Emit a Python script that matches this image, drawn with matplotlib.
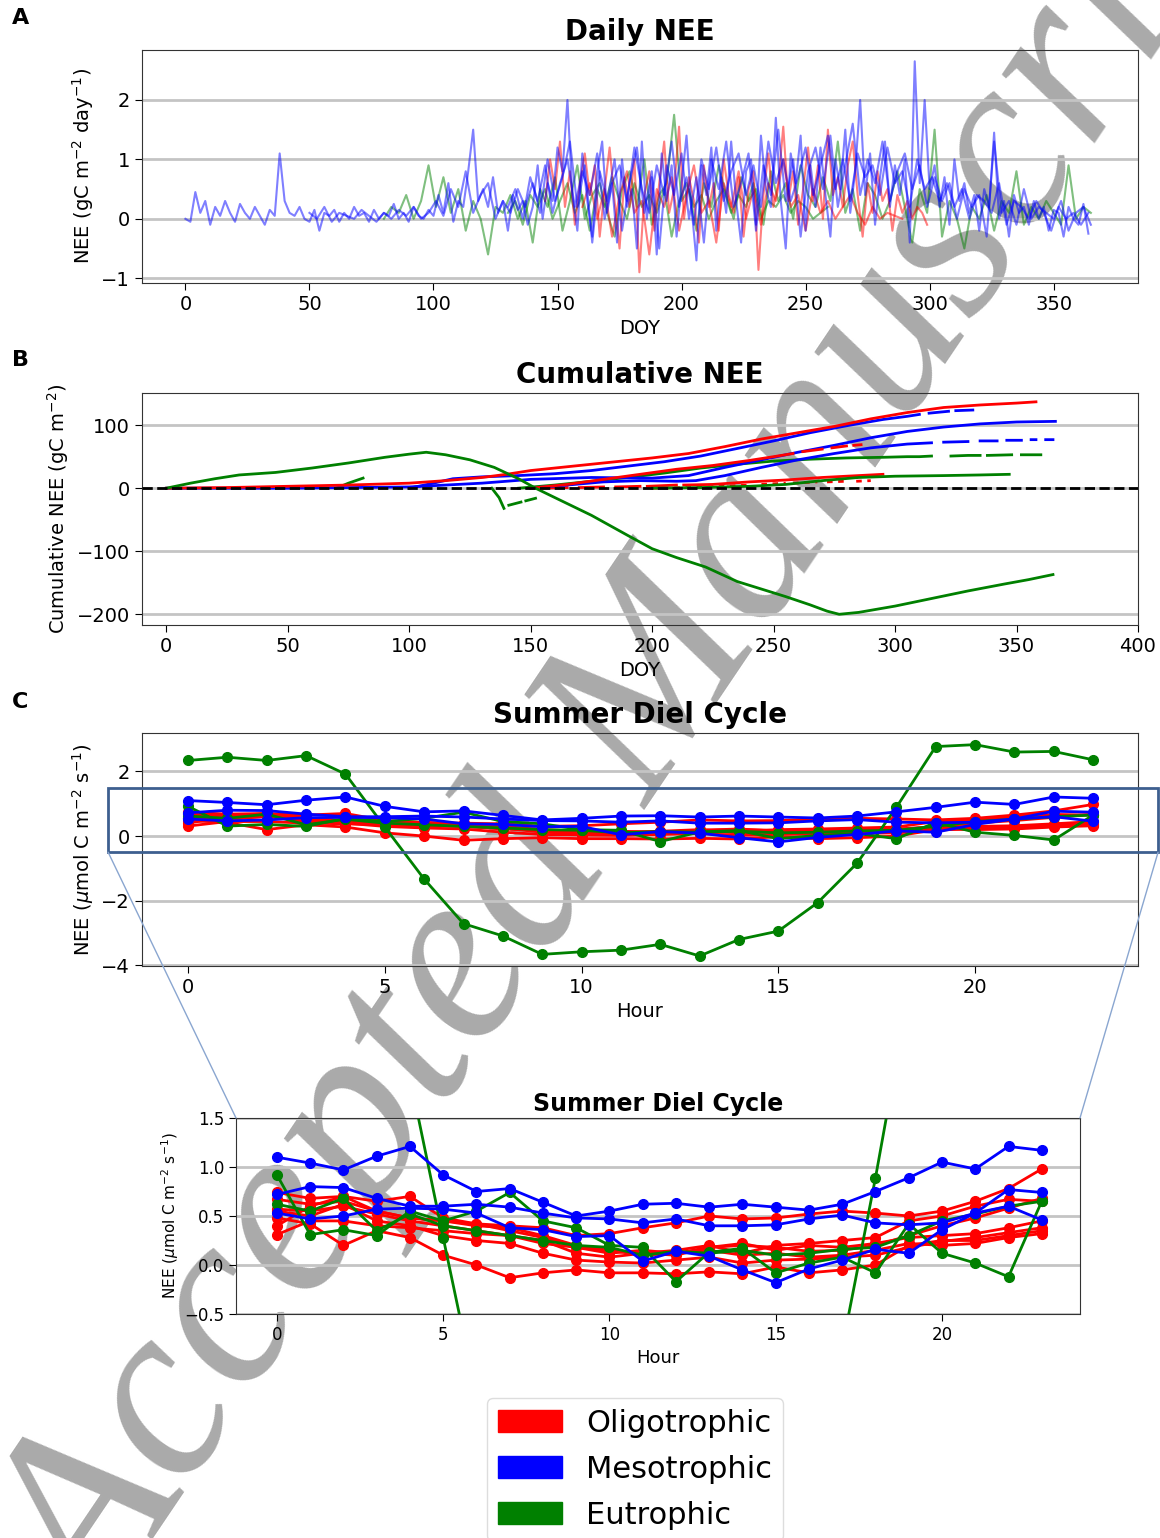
import numpy as np
import matplotlib
matplotlib.use('Agg')
import matplotlib.pyplot as plt
from matplotlib.patches import Patch, Rectangle, ConnectionPatch

plt.rcParams['font.family'] = ['DejaVu Sans']
nan = np.nan

# ---------------- Panel A: daily NEE (gC m-2 day-1) ----------------
blue1_start, blue1_step = 0, 2
blue1 = [0.0, -0.05, 0.45, 0.1, 0.3, -0.1, 0.2, 0.05, 0.3, 0.1,
         -0.05, 0.25, 0.1, 0.0, 0.2, 0.05, -0.1, 0.15, 0.05, 1.1,
         0.3, 0.1, 0.05, 0.2, 0.0, -0.05, 0.15, -0.2, 0.1, 0.05,
         0.15, -0.05, 0.1, 0.0, 0.2, 0.05, 0.1, -0.05, 0.15, 0.0,
         0.1, 0.05, 0.25, 0.0, 0.1, -0.05, 0.2, 0.05, 0.0, 0.15,
         0.05, 0.4, 0.1, 0.6, -0.05, 0.3, 0.2, 0.8, 1.5, 0.3,
         0.5, 0.2, 0.7, 0.1, 0.3, -0.2, 0.4, 0.15, 0.3, -0.1,
         0.2, 0.9, 0.0, 0.6, 0.3, 1.2, 0.8, 2.0, 0.4, -0.2,
         1.1, 0.3, -0.3, 0.8, 1.3, 0.1, 0.6, -0.4, 1.0, 0.2,
         0.5, -0.5, 1.3, 0.0, 0.7, -0.6, 1.1, 0.3, 0.9, -0.3,
         0.6, 1.4, 0.2, -0.7, 0.9, 0.4, 1.2, -0.2, 0.7, 0.1,
         1.3, 0.3, -0.4, 0.8, 1.0, -0.1, 1.4, 0.5, 0.2, 1.7,
         0.3, -0.5, 1.1, 0.6, 1.4, -0.2, 0.9, 0.2, 1.2, 0.4,
         -0.3, 1.0, 0.5, 1.5, 0.1, 0.8, 2.0, 0.4, 1.1, -0.1,
         0.7, 1.3, 0.2, 0.9, 0.4, 1.0, -0.4, 2.65, 0.6, 2.0,
         0.5, 0.9, 0.2, 0.7, -0.1, 1.0, 0.3, 0.6, 0.1, 0.4,
         -0.2, 0.5, 0.2, 1.45, 0.0, 0.3, -0.3, 0.4, 0.1, 0.2,
         -0.1, 0.3, 0.0, 0.2, -0.2, 0.15, 0.1, -0.3, 0.2, 0.0,
         -0.1, 0.25, -0.25]

blue2_start, blue2_step = 50, 3
blue2 = [0.1, 0.0, 0.2, -0.05, 0.1, 0.05, 0.0, 0.15, 0.05, -0.05,
         0.1, 0.0, 0.15, 0.05, 0.2, 0.0, 0.1, 0.3, 0.05, 0.5,
         0.2, 0.8, 0.1, 0.4, 0.6, 0.0, 0.3, 0.1, 0.5, 0.2,
         0.6, 0.1, 1.0, 0.3, 0.7, 1.3, 0.2, 0.9, -0.4, 0.8,
         0.3, 1.0, -0.2, 0.6, 1.2, 0.1, 0.8, -0.5, 0.9, 0.4,
         1.1, 0.0, 0.7, -0.4, 1.0, 0.5, 1.3, 0.2, 0.6, 1.1,
         -0.2, 0.9, 0.4, 1.5, 0.3, 1.0, -0.3, 0.8, 1.2, 0.5,
         1.4, 0.2, 0.9, 1.6, 0.4, 1.0, 0.6, 1.3, 0.3, 0.8,
         1.1, 0.5, 0.9, 0.2, 0.7, 0.3, 0.6, 0.0, 0.5, 0.2,
         0.4, -0.3, 1.3, 0.1, 0.3, -0.1, 0.5, 0.0, 0.2, 0.1,
         0.0, 0.3, -0.2, 0.1, 0.2, -0.1]

blue3_start, blue3_step = 130, 3
blue3 = [0.2, 0.5, 0.0, 0.7, 0.3, 0.9, 0.1, 0.6, 1.0, 0.2,
         0.8, 0.4, 1.1, 0.0, 0.6, 0.9, 0.3, 1.2, 0.5, 0.1,
         0.9, 0.4, 1.3, 0.2, 0.7, -0.1, 1.0, 0.5, 1.2, 0.3,
         0.8, 1.1, 0.4, 0.9, 0.2, 1.3, 0.6, 1.0, 0.3, 0.7,
         1.2, 0.4, 0.9, 1.4, 0.5, 1.0, 0.3, 1.1, 0.7, 0.9,
         0.4, 1.2, 0.6, 0.8, 0.2, 1.0, 0.5, 0.7, 0.3, 0.6,
         0.2, 0.5, 0.0, 0.4, 0.3, 0.1, 0.6, -0.1, 0.3, 0.2,
         0.0, 0.3, 0.1, -0.2, 0.2, 0.0, 0.1, -0.1, 0.1]

red1_start, red1_step = 145, 2
red1 = [0.3, 1.0, 0.5, 1.3, 0.2, 0.8, -0.1, 0.6, 1.1, 0.4,
        0.9, -0.3, 0.5, 1.2, 0.3, -0.5, 0.7, 0.2, 1.0, -0.9,
        0.4, 0.8, -0.2, 0.6, 1.3, 0.1, 0.5, 1.55, 0.0, 0.7,
        0.3, -0.4, 0.9, 0.2, 0.6, -0.2, 1.0, 0.4, 0.1, 0.7,
        -0.3, 0.5, 0.8, -0.86, 0.4, 1.1, 0.2, 0.6, 1.55, 0.3,
        0.8, -0.1, 0.5, 1.2, 0.3, 0.9, 0.0, 1.5, 0.4, 0.7,
        0.2, 0.9, 1.3, 0.4, -0.3, 0.6, 0.1, 0.8, 0.3, 0.5,
        -0.2, 0.4, 0.1, 0.3, 0.0, 0.2, 0.1, -0.1]

red2_start, red2_step = 160, 3
red2 = [0.2, 0.6, 0.0, 0.5, -0.3, 0.4, 0.8, 0.1, 0.3, -0.6,
        0.5, 0.2, 0.7, -0.2, 0.4, 0.9, 0.1, 0.3, -0.4, 0.6,
        0.2, 0.8, 0.0, 0.5, -0.1, 0.6, 0.3, 1.0, 0.2, 0.4,
        -0.2, 0.5, 0.1, 0.3, 0.0, 0.2, 0.4, 0.1, -0.1, 0.2,
        0.0, 0.1, 0.05, 0.0]

green1_start, green1_step = 80, 3
green1 = [0.0, 0.2, 0.1, 0.4, 0.0, 0.3, 0.9, 0.2, 0.7, 0.1,
          0.5, -0.2, 0.3, 0.0, -0.6, 0.2, 0.1, 0.4, 0.0, 0.3,
          -0.4, 0.5, 0.2, 0.7, -0.2, 0.3, 0.9, 0.0, 0.4, 0.6,
          0.1, -0.3, 0.5, 0.8, 0.2, 1.0, -0.1, 0.4, 0.6, 1.75,
          0.3, 0.5, -0.2, 0.6, 0.2, 0.9, 0.4, 0.0, 0.7, 0.3,
          0.5, -0.1, 0.8, 0.3, 0.6, 0.0, 0.9, 0.4, 0.2, 0.7,
          0.3, 1.3, 0.1, 0.5, -0.2, 0.6, 0.4, 0.0, 0.3, 0.8,
          0.2, -0.4, 0.5, 0.1, 1.5, -0.3, 0.3, 0.0, -0.5, 0.2,
          0.0, 0.4, -0.2, 0.3, 0.1, 0.8, -0.1, 0.2, 0.0, 0.3,
          0.1, -0.1, 0.9, 0.0, 0.2, 0.1]

green2_start, green2_step = 130, 3
green2 = [0.1, 0.3, -0.1, 0.4, 0.2, 0.5, 0.0, 0.3, 0.6, 0.1,
          0.4, -0.2, 0.5, 0.2, 0.7, 0.3, 0.0, 0.6, 0.2, 0.4,
          0.1, 0.5, -0.3, 0.3, 0.6, 0.2, 0.4, 0.0, 0.3, 0.5,
          0.1, 0.4, 0.2, 0.6, 0.0, 0.3, 0.2, 0.4, 0.1, 0.3,
          0.2, 0.0, 0.1, 0.2]

daily_series = [
    ('green', green1_start, green1_step, green1),
    ('green', green2_start, green2_step, green2),
    ('red', red1_start, red1_step, red1),
    ('red', red2_start, red2_step, red2),
    ('blue', blue2_start, blue2_step, blue2),
    ('blue', blue3_start, blue3_step, blue3),
    ('blue', blue1_start, blue1_step, blue1),
]

# ---------------- Panel B: cumulative NEE (gC m-2) ----------------
cum_green_big_doy = [0, 10, 20, 30, 45, 60, 75, 90, 100, 107, 115, 125, 135, 145, 152, 160, 175,
                     190, 200, 210, 222, 235, 245, 255, 265, 272, 277, 285, 300, 315, 330, 345, 355, 365]
cum_green_big = [0, 8, 15, 21, 25, 32, 40, 49, 54, 57, 53, 45, 33, 15, 0, -15, -43,
                 -75, -96, -110, -125, -148, -160, -172, -185, -195, -200, -197, -187, -175, -163, -152, -145, -137]

cum_red_top_doy = [0, 25, 50, 75, 100, 115, 130, 140, 150, 160, 175, 190, 200, 215, 230, 245,
                   260, 275, 290, 305, 320, 335, 350, 358]
cum_red_top = [0, 1, 3, 5, 8, 12, 17, 22, 28, 32, 38, 44, 48, 55, 66, 78,
               88, 98, 110, 120, 128, 132, 135, 137]

cum_red2_doy = [150, 165, 180, 195, 210, 225, 240, 250, 258, nan, 262, 270, nan, 274, 280, nan, 283, 286]
cum_red2 = [0, 6, 14, 22, 30, 36, 44, 50, 55, nan, 58, 62, nan, 64, 67, nan, 68, 69]

cum_red3_doy = [155, 165, nan, 170, 180, nan, 185, 195, nan, 198, 210, nan, 213, 225, 240, 255, 270, 285, 295]
cum_red3 = [0, 1, nan, 1, 2, nan, 2, 3, nan, 3, 5, nan, 5, 6, 10, 13, 17, 20, 22]

cum_red4_doy = [200, 215, 230, 240, nan, 245, 255, nan, 258, 268, nan, 272, 280, nan, 284, 290]
cum_red4 = [0, 1, 3, 5, nan, 6, 8, nan, 8, 10, nan, 10, 11, nan, 11, 12]

cum_blue1_doy = [100, 110, 118, 130, 145, 160, 175, 190, 205, 220, 235, 250, 265, 280, 295, 305,
                 310, nan, 314, 322, nan, 325, 332]
cum_blue1 = [0, 8, 15, 18, 20, 23, 28, 35, 42, 51, 63, 75, 88, 99, 109, 114,
             117, nan, 119, 122, nan, 123, 124]

cum_blue2_doy = [0, 50, 100, 130, 150, 175, 200, 215, 230, 245, 260, 275, 290, 305, 320, 335, 350, 366]
cum_blue2 = [0, 0, 2, 8, 14, 17, 16, 20, 33, 45, 57, 68, 80, 90, 97, 102, 105, 106]

cum_blue3_doy = [150, 165, 180, 195, 210, 218, 230, 245, 260, 275, 290, 305, 315, nan, 320, 330, nan,
                 335, 342, nan, 346, 352, nan, 356, 358, nan, 362, 365]
cum_blue3 = [0, 5, 10, 12, 11, 12, 20, 33, 45, 55, 64, 70, 72, nan, 73, 74, nan,
             75, 75, nan, 76, 76, nan, 77, 77, nan, 77, 77]

cum_green_small_doy = [70, 75, 81]
cum_green_small = [0, 8, 16]

cum_green_drop_doy = [134, 137, 139, nan, 141, 146, nan, 148, 152]
cum_green_drop = [0, -15, -32, nan, -27, -22, nan, -20, -16]

cum_green_d_doy = [145, 160, 175, 190, 205, 220, 235, 250, 265, 280, 295, 305, 310, 315, nan,
                   323, 330, 335, nan, 338, 348, nan, 352, 360]
cum_green_d = [0, 5, 11, 17, 24, 32, 38, 43, 46, 48, 49, 50, 50, 51, nan,
               51, 52, 52, nan, 52, 53, nan, 53, 53]

cum_green_e_doy = [200, 220, 240, 255, 270, 285, 300, 320, 335, 347]
cum_green_e = [0, 1, 3, 6, 12, 17, 19, 20, 21, 22]

cum_series = [
    ('red', cum_red4_doy, cum_red4, (0, (2, 2))),
    ('red', cum_red3_doy, cum_red3, '-'),
    ('green', cum_green_small_doy, cum_green_small, '-'),
    ('green', cum_green_drop_doy, cum_green_drop, '-'),
    ('green', cum_green_e_doy, cum_green_e, '-'),
    ('green', cum_green_d_doy, cum_green_d, '-'),
    ('blue', cum_blue3_doy, cum_blue3, '-'),
    ('blue', cum_blue2_doy, cum_blue2, '-'),
    ('red', cum_red2_doy, cum_red2, '-'),
    ('blue', cum_blue1_doy, cum_blue1, '-'),
    ('red', cum_red_top_doy, cum_red_top, '-'),
    ('green', cum_green_big_doy, cum_green_big, '-'),
]

# ---------------- Panel C: summer diel cycle (umol C m-2 s-1) ----------------
hours = list(range(24))
diel_red = [
    [0.74, 0.68, 0.70, 0.65, 0.70, 0.48, 0.42, 0.40, 0.38, 0.30, 0.32, 0.38, 0.43, 0.50, 0.47, 0.48, 0.52, 0.55, 0.53, 0.50, 0.55, 0.65, 0.78, 0.98],
    [0.67, 0.62, 0.65, 0.55, 0.48, 0.45, 0.42, 0.35, 0.28, 0.18, 0.15, 0.12, 0.15, 0.20, 0.12, 0.20, 0.22, 0.25, 0.28, 0.45, 0.50, 0.60, 0.67, 0.65],
    [0.57, 0.55, 0.60, 0.52, 0.45, 0.40, 0.35, 0.30, 0.25, 0.12, 0.08, 0.12, 0.10, 0.18, 0.22, 0.15, 0.20, 0.18, 0.22, 0.28, 0.30, 0.32, 0.38, 0.45],
    [0.48, 0.42, 0.20, 0.35, 0.28, 0.10, 0.00, -0.13, -0.08, -0.05, -0.08, -0.08, -0.09, -0.07, -0.09, -0.02, -0.08, -0.05, 0.00, 0.20, 0.25, 0.25, 0.30, 0.35],
    [0.31, 0.45, 0.45, 0.40, 0.38, 0.35, 0.32, 0.30, 0.22, 0.18, 0.12, 0.15, 0.12, 0.15, 0.10, 0.12, 0.08, 0.10, 0.15, 0.22, 0.20, 0.22, 0.28, 0.32],
    [0.55, 0.50, 0.62, 0.45, 0.40, 0.30, 0.25, 0.22, 0.12, 0.05, 0.03, 0.02, 0.05, 0.08, 0.02, 0.05, 0.06, 0.08, 0.10, 0.18, 0.24, 0.28, 0.33, 0.38],
    [0.40, 0.60, 0.70, 0.55, 0.48, 0.45, 0.40, 0.38, 0.30, 0.20, 0.15, 0.10, 0.12, 0.18, 0.20, 0.18, 0.14, 0.15, 0.20, 0.30, 0.40, 0.48, 0.58, 0.68],
]
diel_blue = [
    [1.10, 1.04, 0.97, 1.11, 1.21, 0.92, 0.75, 0.78, 0.64, 0.50, 0.55, 0.62, 0.63, 0.59, 0.62, 0.59, 0.56, 0.62, 0.75, 0.89, 1.05, 0.98, 1.21, 1.17],
    [0.72, 0.80, 0.79, 0.68, 0.60, 0.60, 0.62, 0.59, 0.53, 0.48, 0.47, 0.43, 0.47, 0.40, 0.40, 0.41, 0.47, 0.51, 0.43, 0.41, 0.43, 0.53, 0.77, 0.74],
    [0.53, 0.47, 0.50, 0.57, 0.58, 0.57, 0.53, 0.38, 0.36, 0.29, 0.30, 0.04, 0.14, 0.09, -0.05, -0.18, -0.04, 0.05, 0.16, 0.12, 0.36, 0.53, 0.60, 0.46],
]
diel_green = [
    [2.34, 2.44, 2.34, 2.49, 1.92, 0.28, -1.33, -2.71, -3.09, -3.66, -3.58, -3.53, -3.35, -3.71, -3.20, -2.94, -2.06, -0.84, 0.89, 2.77, 2.83, 2.60, 2.62, 2.36],
    [0.92, 0.31, 0.36, 0.30, 0.55, 0.45, 0.55, 0.74, 0.45, 0.38, 0.20, 0.18, -0.17, 0.13, 0.17, -0.08, 0.02, 0.08, -0.08, 0.42, 0.12, 0.02, -0.12, 0.65],
    [0.62, 0.55, 0.68, 0.35, 0.52, 0.40, 0.35, 0.30, 0.25, 0.20, 0.18, 0.10, 0.14, 0.12, 0.15, 0.10, 0.12, 0.16, 0.18, 0.30, 0.45, 0.52, 0.60, 0.65],
]

zoom_box = (-2.03, 24.65, -0.5, 1.5)  # x0, x1, y0, y1 of the highlighted region

labels = ['Oligotrophic', 'Mesotrophic', 'Eutrophic']
colors = ['red', 'blue', 'green']

# ---------------- Figure ----------------
W, H = 1160, 1538
fig = plt.figure(figsize=(W / 100, H / 100), dpi=100)


def box(l, t, r, b):
    return [l / W, 1 - b / H, (r - l) / W, (b - t) / H]


grid_kw = dict(color='#c4c4c4', lw=2)


def style(ax, fs):
    ax.set_facecolor('none')
    ax.yaxis.grid(True, **grid_kw)
    ax.set_axisbelow(True)
    ax.tick_params(labelsize=fs, length=5)
    for s in ax.spines.values():
        s.set_color('#333333')


# Panel A
axA = fig.add_axes(box(142, 50, 1138, 283))
for c, st, step, vals in daily_series:
    x = st + step * np.arange(len(vals))
    axA.plot(x, vals, color=c, alpha=0.5, lw=1.5)
axA.set_xlim(-17.5, 384)
axA.set_ylim(-1.08, 2.84)
axA.set_xticks(range(0, 351, 50))
axA.set_yticks([-1, 0, 1, 2])
style(axA, 14)
axA.set_title('Daily NEE', fontsize=20, fontweight='bold', pad=7)
axA.set_xlabel('DOY', fontsize=14)
axA.set_ylabel('NEE (gC m$^{-2}$ day$^{-1}$)', fontsize=14)

# Panel B
axB = fig.add_axes(box(142, 393, 1138, 625))
axB.axhline(0, color='black', ls='--', lw=2, zorder=5)
for c, xd, yd, ls in cum_series:
    axB.plot(xd, yd, color=c, ls=ls, lw=2)
axB.set_xlim(-10, 400)
axB.set_ylim(-217, 151)
axB.set_xticks(range(0, 401, 50))
axB.set_yticks([-200, -100, 0, 100])
style(axB, 14)
axB.set_title('Cumulative NEE', fontsize=20, fontweight='bold', pad=7)
axB.set_xlabel('DOY', fontsize=14)
axB.set_ylabel('Cumulative NEE (gC m$^{-2}$)', fontsize=14)

# Panel C (main) and zoomed view
axC = fig.add_axes(box(142, 733, 1138, 966))
axI = fig.add_axes(box(236, 1118, 1080, 1314))
for ax in (axC, axI):
    for vals in diel_red:
        ax.plot(hours, vals, color='red', lw=2, marker='o', ms=7)
    for vals in diel_green:
        ax.plot(hours, vals, color='green', lw=2, marker='o', ms=7)
    for vals in diel_blue:
        ax.plot(hours, vals, color='blue', lw=2, marker='o', ms=7)

axC.set_xlim(-1.17, 24.14)
axC.set_ylim(-4.02, 3.19)
axC.set_xticks([0, 5, 10, 15, 20])
axC.set_yticks([-4, -2, 0, 2])
style(axC, 14)
axC.set_title('Summer Diel Cycle', fontsize=20, fontweight='bold', pad=7)
axC.set_xlabel('Hour', fontsize=14)
axC.set_ylabel('NEE ($\\mu$mol C m$^{-2}$ s$^{-1}$)', fontsize=14)

axI.set_xlim(-1.23, 24.15)
axI.set_ylim(-0.5, 1.5)
axI.set_xticks([0, 5, 10, 15, 20])
axI.set_yticks([-0.5, 0.0, 0.5, 1.0, 1.5])
style(axI, 12)
axI.set_title('Summer Diel Cycle', fontsize=17, fontweight='bold', pad=5)
axI.set_xlabel('Hour', fontsize=13)
axI.set_ylabel('NEE ($\\mu$mol C m$^{-2}$ s$^{-1}$)', fontsize=11, labelpad=2)

x0, x1, y0, y1 = zoom_box
rect = Rectangle((x0, y0), x1 - x0, y1 - y0, fill=False, ec='#3d5f8f', lw=2,
                 clip_on=False, zorder=6)
axC.add_patch(rect)
for (xa, xb) in ((x0, 0), (x1, 1)):
    con = ConnectionPatch(xyA=(xa, y0), coordsA=axC.transData,
                          xyB=(xb, 1), coordsB=axI.transAxes,
                          color='#8aa6d0', lw=1)
    fig.add_artist(con)

# panel letters
for letter, ypx in (('A', 18), ('B', 360), ('C', 702)):
    fig.text(12 / W, 1 - ypx / H, letter, fontsize=16, fontweight='bold', va='center')

# legend
handles = [Patch(facecolor=c, edgecolor=c) for c in colors]
leg = fig.legend(handles, labels, loc='upper left',
                 bbox_to_anchor=(487 / W, 1 - 1398 / H), fontsize=22,
                 handlelength=2.1, handleheight=0.75, handletextpad=0.8,
                 labelspacing=0.56, borderpad=0.35, borderaxespad=0,
                 framealpha=1, edgecolor='#dddddd')

# watermark (behind the data)
fig.text(652 / W, 1 - 712 / H, 'Accepted Manuscript', fontsize=180, color='#aaaaaa',
         rotation=56, ha='center', va='center', style='italic',
         family=['Liberation Serif', 'DejaVu Serif'], zorder=-1)

fig.savefig('out.png', dpi=100)
